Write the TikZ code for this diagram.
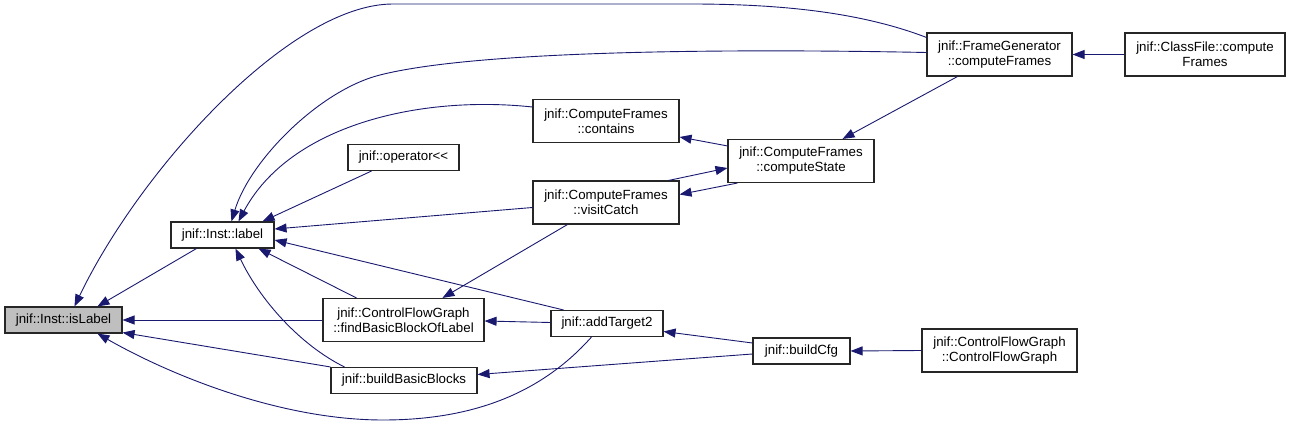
\documentclass[tikz,border=0pt]{standalone}
\usepackage{fontspec}
\setmainfont{Liberation Sans}
\usetikzlibrary{arrows.meta,calc}
\definecolor{doxblue}{HTML}{191970}
\tikzset{
  func/.style={
    shape = rectangle,
    draw = black!85,
    line width = 1.1pt,
    fill = white,
    inner sep = 0pt,
    minimum height = 26pt,
    align = center,
    font = \fontsize{13.3}{15}\selectfont
  },
  func2/.style={
    func,
    minimum height = 43pt
  },
  focus/.style={
    func,
    fill = black!25
  },
  call/.style={
    draw = doxblue,
    line width = 0.9pt,
    -{Triangle[length=12pt,width=9pt]}
  }
}

\begin{document}
\begin{tikzpicture}[x=1pt,y=-1pt]
    \useasboundingbox (0,0) rectangle (1291,427);

    % callees on the left
    \node[focus, minimum width=117pt] (isLabel) at (63.5,320) {jnif::Inst::isLabel};
    \node[func, minimum width=103pt] (label) at (222.5,235) {jnif::Inst::label};

    \node[func, minimum width=111pt] (op) at (403.5,157.5) {jnif::operator<\kern0pt<};
    \node[func2, minimum width=161pt] (findBB) at (403.5,320) {jnif::ControlFlowGraph\\::findBasicBlockOfLabel};
    \node[func, minimum width=146pt] (buildBB) at (404,380.5) {jnif::buildBasicBlocks};

    \node[func2, minimum width=146pt] (contains) at (606,121) {jnif::ComputeFrames\\::contains};
    \node[func2, minimum width=146pt] (visitCatch) at (606,202.5) {jnif::ComputeFrames\\::visitCatch};
    \node[func, minimum width=112pt] (addTarget) at (607,323.5) {jnif::addTarget2};

    \node[func2, minimum width=146pt] (state) at (801,161) {jnif::ComputeFrames\\::computeState};
    \node[func, minimum width=97pt] (buildCfg) at (801.5,351) {jnif::buildCfg};

    \node[func2, minimum width=145pt] (frameGen) at (999.5,54.5) {jnif::FrameGenerator\\::computeFrames};
    \node[func2, minimum width=155pt] (cfg) at (999.5,350.5) {jnif::ControlFlowGraph\\::ControlFlowGraph};
    \node[func2, minimum width=160pt] (classFile) at (1205,54.5) {jnif::ClassFile::compute\\Frames};

    % calls into isLabel
    \draw[call] ($(label.south west)+(26,0)$) -- ($(isLabel.north west)+(93,0)$);
    \draw[call] (findBB.west) -- (isLabel.east);
    \draw[call] (buildBB.north west) -- ($(isLabel.south east)+(0,-1)$);
    \draw[call] ($(addTarget.south west)+(41,0)$) .. controls (540,395) and (470,420) .. (383,420)
        .. controls (280,420) and (170,375) .. ($(isLabel.south west)+(93,0)$);
    \draw[call] ($(frameGen.north west)+(0,5)$) .. controls (860,12) and (780,4) .. (690,4) -- (393,4)
        .. controls (290,4) and (140,170) .. ($(isLabel.north west)+(70,0)$);

    % calls into label
    \draw[call] ($(op.south west)+(24,0)$) -- ($(label.north east)+(-12,0)$);
    \draw[call] ($(contains.west)+(0,-14)$) .. controls (420,95) and (290,125) .. ($(label.north west)+(68,0)$);
    \draw[call] ($(frameGen.west)+(0,-2)$) .. controls (700,48) and (470,52) .. (380,75)
        .. controls (320,90) and (250,160) .. ($(label.north west)+(61,0)$);
    \draw[call] ($(visitCatch.west)+(0,5)$) -- ($(label.east)+(0,-6)$);
    \draw[call] ($(findBB.north west)+(34,0)$) -- ($(label.south east)+(-16,0)$);
    \draw[call] ($(addTarget.north west)+(13,0)$) -- ($(label.east)+(0,5)$);
    \draw[call] ($(buildBB.north west)+(14,0)$) .. controls (300,345) and (260,300) .. ($(label.south west)+(65,0)$);

    % the rest
    \draw[call] ($(state.north west)+(0,7)$) -- ($(contains.east)+(0,16)$);
    \draw[call] ($(visitCatch.north east)+(-11,0)$) -- ($(state.west)+(0,7)$);
    \draw[call] ($(state.south west)+(10,0)$) -- ($(visitCatch.east)+(0,-8)$);
    \draw[call] ($(frameGen.south west)+(31,0)$) -- ($(state.north east)+(-32,0)$);
    \draw[call] (classFile.west) -- (frameGen.east);
    \draw[call] ($(visitCatch.south west)+(35,0)$) -- ($(findBB.north west)+(120,0)$);
    \draw[call] ($(addTarget.west)+(0,-1)$) -- ($(findBB.east)+(0,1)$);
    \draw[call] ($(buildCfg.west)+(0,-8)$) -- ($(addTarget.east)+(0,8)$);
    \draw[call] ($(buildCfg.west)+(0,3)$) -- ($(buildBB.east)+(0,-6)$);
    \draw[call] (cfg.west) -- (buildCfg.east);
\end{tikzpicture}
\end{document}
